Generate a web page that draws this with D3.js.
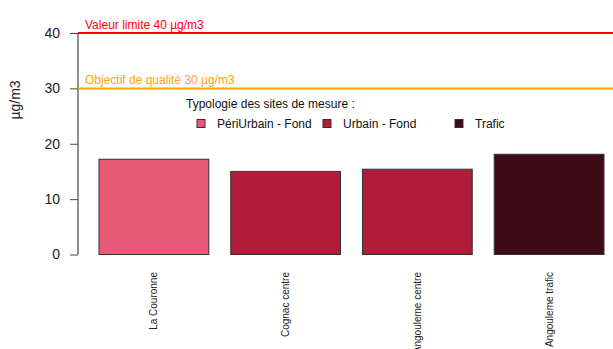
<!DOCTYPE html>
<html>
<head>
<meta charset="utf-8">
<script src="https://cdn.jsdelivr.net/npm/d3@7"></script>
<style>
  html, body { margin: 0; padding: 0; background: #fff; }
  svg { display: block; font-family: "Liberation Sans", Arial, sans-serif; }
</style>
</head>
<body>
<svg id="chart" width="613" height="349"></svg>
<script>
// Mean concentrations (µg/m3) per measuring site
const sites = ["La Couronne", "Cognac centre", "Angouleme centre", "Angouleme trafic"];
const values = [17.2, 15.0, 15.4, 18.1];
const siteTypes = ["PériUrbain - Fond", "Urbain - Fond", "Urbain - Fond", "Trafic"];

// Legend categories and colours
const typeNames = ["PériUrbain - Fond", "Urbain - Fond", "Trafic"];
const typeColors = ["#E85A77", "#B01C3A", "#3E0A16"];

// Y axis ticks and regulatory thresholds
const yTicks = [0, 10, 20, 30, 40];
const thresholds = [
  { value: 40, label: "Valeur limite 40 µg/m3", color: "#FF0000" },
  { value: 30, label: "Objectif de qualité 30 µg/m3", color: "#FFA500" }
];

const svg = d3.select("#chart");
const W = 613;

const x = d3.scaleBand().domain(sites).range([99, 604]).paddingInner(1 / 6).paddingOuter(0);
const y = d3.scaleLinear().domain([0, 40]).range([254.5, 33]);
const color = d3.scaleOrdinal().domain(typeNames).range(typeColors);

// Y axis
const axisX = 78;
const yAxis = d3.axisLeft(y).tickValues(yTicks).tickSize(8).tickPadding(10).tickFormat(d3.format("d"));
const gy = svg.append("g").attr("transform", `translate(${axisX},0)`).call(yAxis);
gy.select(".domain").attr("stroke", "#222").attr("d", `M0,${y(0)}V${y(40)}`);
gy.selectAll(".tick line").attr("stroke", "#444");
gy.selectAll(".tick text").attr("font-size", 14).attr("fill", "#222")
  .attr("font-family", "Liberation Sans, Arial, sans-serif");

// Y axis title
svg.append("text")
  .attr("transform", `translate(20,100) rotate(-90)`)
  .attr("text-anchor", "middle")
  .attr("font-size", 14)
  .attr("fill", "#222")
  .text("µg/m3");

// Bars
svg.append("g").selectAll("rect")
  .data(sites)
  .join("rect")
  .attr("x", d => x(d))
  .attr("width", x.bandwidth())
  .attr("y", (d, i) => y(values[i]))
  .attr("height", (d, i) => y(0) - y(values[i]))
  .attr("fill", (d, i) => color(siteTypes[i]))
  .attr("stroke", "#333")
  .attr("stroke-width", 1);

// Site labels (vertical)
svg.append("g").selectAll("text")
  .data(sites)
  .join("text")
  .attr("transform", d => `translate(${x(d) + x.bandwidth() / 2 + 3.5},272) rotate(-90)`)
  .attr("text-anchor", "end")
  .attr("font-size", 10)
  .attr("fill", "#222")
  .text(d => d);

// Threshold lines with their labels
thresholds.forEach(t => {
  svg.append("line")
    .attr("x1", axisX).attr("x2", W)
    .attr("y1", y(t.value)).attr("y2", y(t.value))
    .attr("stroke", t.color).attr("stroke-width", 2);
  svg.append("text")
    .attr("x", 85).attr("y", y(t.value) - 4)
    .attr("font-size", 12)
    .attr("fill", t.color)
    .text(t.label);
});

// Legend
const legend = svg.append("g");
legend.append("text")
  .attr("x", 186).attr("y", 108)
  .attr("font-size", 12).attr("fill", "#111")
  .text("Typologie des sites de mesure :");
const legendX = [197, 323, 455];
typeNames.forEach((name, i) => {
  legend.append("rect")
    .attr("x", legendX[i]).attr("y", 119.5)
    .attr("width", 8).attr("height", 8)
    .attr("fill", color(name)).attr("stroke", "#333");
  legend.append("text")
    .attr("x", legendX[i] + 20).attr("y", 128)
    .attr("font-size", 12).attr("fill", "#111")
    .text(name);
});
</script>
</body>
</html>
